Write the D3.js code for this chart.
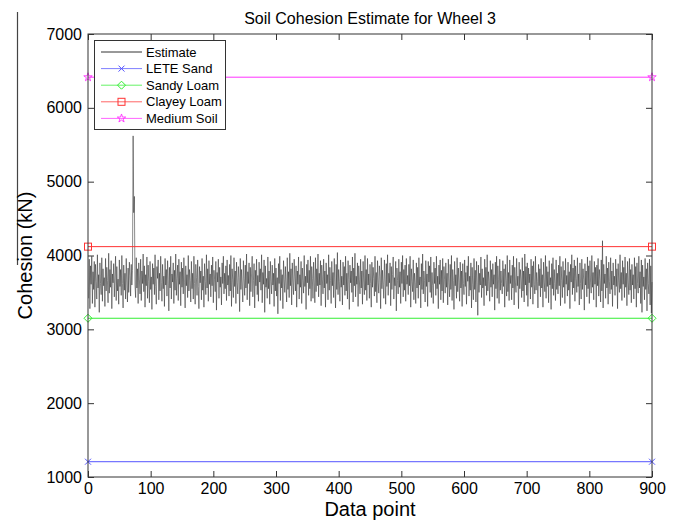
<!DOCTYPE html>
<html>
<head>
<meta charset="utf-8">
<script src="https://cdn.jsdelivr.net/npm/d3@7"></script>
<style>
  html, body { margin: 0; padding: 0; background: #fff; }
  svg { display: block; font-family: Arial, "Liberation Sans", sans-serif; }
</style>
</head>
<body>
<svg id="chart" width="677" height="523"></svg>
<script>
// ---------------- data ----------------
const chartTitle = "Soil Cohesion Estimate for Wheel 3";
const xLabel = "Data point";
const yLabel = "Cohesion (kN)";
const xTicks = [0, 100, 200, 300, 400, 500, 600, 700, 800, 900];
const yTicks = [1000, 2000, 3000, 4000, 5000, 6000, 7000];
const xDomain = [0, 900];
const yDomain = [1000, 7000];

const refNames = ["LETE Sand", "Sandy Loam", "Clayey Loam", "Medium Soil"];
const refValues = [1207, 3150, 4120, 6415];
const refX = [0, 900];

// Estimate series (data points 1..900)
const estimate = [
3420,3950,3280,3860,3610,3990,3350,3780,3540,3920,3300,3880,3650,3410,4010,
3560,3740,3230,3900,3620,3470,3970,3380,3820,3590,3700,3310,3960,3520,3840,
3660,3360,4030,3490,3810,3570,3930,3280,3750,3630,3890,3440,3710,3990,3390,
3850,3520,3680,3340,3940,3580,3810,3460,4000,3620,3290,3870,3530,3760,3410,
3960,3640,3370,3830,3500,3910,3730,3450,3880,3600,3800,5620,4580,4800,3600,
3430,3970,3560,3820,3350,3900,3680,3480,3950,3390,3790,3620,4020,3510,3860,
3300,3740,3590,3980,3420,3870,3650,3360,3920,3540,3710,3270,3890,3610,3830,
3470,4010,3580,3340,3850,3690,3940,3400,3760,3520,3990,3630,3380,3880,3550,
3720,3310,3960,3600,3810,3450,3930,3670,3250,3840,3560,3990,3410,3750,3640,
3900,3350,3800,3530,4020,3460,3690,3870,3390,3950,3610,3780,3320,3910,3570,
3830,3480,3970,3640,3290,3860,3590,3740,3430,4000,3520,3810,3660,3370,3920,
3550,3760,3410,3990,3620,3340,3880,3700,3460,3940,3580,3280,3850,3630,3790,
3400,3960,3530,3720,3300,3890,3650,3470,4010,3560,3820,3380,3930,3610,3750,
3440,3870,3590,3980,3360,3800,3680,3510,3920,3260,3770,3640,3950,3420,3840,
3570,3710,3330,3900,3620,3990,3480,3760,3550,3860,3390,3940,3600,3730,3450,
3880,3520,4000,3310,3820,3670,3430,3970,3580,3790,3350,3910,3630,3480,3850,
3700,3240,3960,3540,3810,3600,3370,3930,3690,3460,3870,3560,4020,3400,3780,
3620,3900,3320,3840,3510,3750,3990,3440,3660,3890,3290,3800,3590,3950,3470,
3730,3380,3910,3640,3820,3530,4010,3360,3770,3610,3940,3230,3860,3570,3690,
3420,3980,3550,3790,3340,3920,3650,3480,3870,3600,3760,3310,3960,3520,3830,
3450,3700,3210,3890,3620,3990,3390,3810,3560,3740,3280,3930,3670,3500,3850,
3600,3370,3970,3540,3780,3430,4030,3590,3820,3330,3900,3640,3470,3950,3710,
3520,3860,3300,3790,3610,3980,3410,3740,3570,3920,3350,3830,3660,3490,4000,
3580,3720,3270,3880,3630,3940,3460,3800,3550,3990,3380,3850,3690,3420,3910,
3640,3360,3970,3510,3820,3590,4020,3440,3760,3600,3930,3320,3870,3680,3480,
3950,3560,3790,3300,3900,3620,3740,3400,4010,3530,3840,3660,3350,3920,3590,
3770,3430,3960,3610,3290,3880,3540,4040,3470,3810,3650,3380,3940,3570,3720,
3330,3910,3600,3850,3460,3990,3520,3760,3410,3930,3680,3270,3870,3630,3790,
3500,3980,3370,3830,3590,4030,3440,3720,3610,3900,3310,3860,3670,3480,3950,
3560,3790,3340,3920,3640,3470,4000,3530,3810,3390,3960,3600,3750,3420,3880,
3620,3300,3910,3570,3840,3690,3450,3990,3510,3770,3360,3930,3640,3490,3860,
3720,3280,3970,3550,3800,3610,3420,3940,3680,3340,3890,3580,4010,3460,3760,
3630,3900,3320,3850,3540,3740,3980,3410,3700,3590,3920,3250,3830,3660,3480,
3950,3570,3780,3350,3910,3620,4000,3440,3810,3530,3870,3380,3960,3610,3730,
3470,3880,3590,3990,3300,3820,3650,3510,3940,3400,3760,3630,3350,3900,3560,
3840,3420,3970,3600,3710,3290,3890,3540,4020,3480,3790,3660,3370,3930,3580,
3750,3310,3920,3640,3860,3500,3980,3430,3770,3590,3350,3910,3620,3830,3460,
3990,3550,3720,3280,3870,3610,3940,3400,3800,3520,3960,3360,3850,3680,3490,
3900,3570,3760,3330,3950,3630,3440,3880,3540,4000,3390,3810,3660,3270,3920,
3590,3740,3420,3970,3510,3830,3640,3380,3910,3560,3790,3310,3890,3620,3470,
3940,3580,3770,3340,3860,3650,3990,3450,3720,3530,3900,3290,3840,3610,3400,
3960,3540,3800,3370,3920,3630,3190,3870,3500,3760,3600,3980,3430,3820,3560,
3700,3320,3950,3590,3840,3460,4010,3520,3780,3650,3380,3930,3570,3810,3440,
3890,3610,3740,3260,3910,3550,3990,3420,3860,3680,3350,3950,3530,3790,3620,
3480,3930,3580,3820,3300,3880,3660,3450,4000,3510,3770,3390,3940,3620,3730,
3400,3870,3560,3990,3330,3840,3640,3500,3960,3590,3720,3280,3910,3550,3810,
3680,3430,3970,3520,3790,3370,4020,3600,3850,3460,3900,3310,3830,3630,3750,
3410,3950,3570,3860,3340,3920,3610,3480,3990,3530,3770,3650,3290,3880,3590,
3820,3440,3960,3560,3740,3300,3910,3640,3510,4000,3420,3850,3580,3780,3360,
3930,3600,3700,3270,3890,3550,3970,3460,3810,3620,3390,3940,3540,3760,3480,
3870,3590,3990,3320,3850,3660,3430,3920,3570,3800,3350,3960,3610,3730,3450,
3910,3530,3780,3280,3880,3640,4010,3470,3830,3560,3940,3380,3860,3690,3500,
3970,3580,3750,3330,3900,3620,3410,3950,3540,3820,3670,3260,3890,3600,3790,
3440,3980,3550,3860,3350,3930,3640,3490,4000,3570,3770,3400,3920,3610,3840,
3300,3870,3590,3960,3450,3810,3660,3370,3940,3520,4200,3290,3880,3620,3750,
3420,3990,3560,3830,3340,3910,3650,3480,3970,3540,3790,3310,3900,3600,3720,
3460,3950,3580,3820,3280,3890,3630,3500,4010,3550,3770,3390,3930,3610,3840,
3430,3980,3570,3760,3320,3920,3640,3470,3960,3530,3810,3360,3880,3600,3740,
3410,3970,3550,3850,3300,3900,3620,3490,3990,3560,3780,3350,3940,3230,3870,
3580,3710,3400,3960,3540,3820,3250,3900,3620,3480,3950,3330,3860,3220,3640
];

// ---------------- styles / layout ----------------
const refColors = ["#5555ff", "#33ee33", "#ff3333", "#ff33ff"];
const refMarkers = ["x", "diamond", "square", "star"];
const margin = { left: 88, right: 677 - 652, top: 34, bottom: 523 - 477 };
const W = 677, H = 523;

const svg = d3.select("#chart");
const x = d3.scaleLinear().domain(xDomain).range([margin.left, W - margin.right]);
const y = d3.scaleLinear().domain(yDomain).range([H - margin.bottom, margin.top]);

svg.append("rect").attr("width", W).attr("height", H).attr("fill", "#fff");

// stray vertical line at left edge (present in reference image)
svg.append("line").attr("x1", 17.5).attr("x2", 17.5).attr("y1", 12).attr("y2", 265)
  .attr("stroke", "#444").attr("stroke-width", 1.2);

// Estimate line
const line = d3.line().x((d, i) => x(i + 1)).y(d => y(d));
svg.append("path").datum(estimate)
  .attr("d", line)
  .attr("fill", "none")
  .attr("stroke", "#2a2a2a")
  .attr("stroke-width", 0.55);

function drawMarker(g, type, cx, cy, color) {
  const s = 3.5;
  if (type === "x") {
    g.append("path").attr("d", `M${cx - 3},${cy - 3}L${cx + 3},${cy + 3}M${cx - 3},${cy + 3}L${cx + 3},${cy - 3}`)
      .attr("stroke", color).attr("fill", "none").attr("stroke-width", 1);
  } else if (type === "diamond") {
    g.append("path").attr("d", `M${cx},${cy - 4}L${cx + 4},${cy}L${cx},${cy + 4}L${cx - 4},${cy}Z`)
      .attr("stroke", color).attr("fill", "none").attr("stroke-width", 1);
  } else if (type === "square") {
    g.append("rect").attr("x", cx - s).attr("y", cy - s).attr("width", 2 * s).attr("height", 2 * s)
      .attr("stroke", color).attr("fill", "none").attr("stroke-width", 1);
  } else if (type === "star") {
    g.append("path").attr("d", d3.symbol(d3.symbolStar, 22)()).attr("transform", `translate(${cx},${cy})`)
      .attr("stroke", color).attr("fill", "none").attr("stroke-width", 0.9);
  }
}

// Reference lines
refValues.forEach((v, k) => {
  const g = svg.append("g");
  g.append("line").attr("x1", x(refX[0])).attr("x2", x(refX[1]))
    .attr("y1", y(v)).attr("y2", y(v))
    .attr("stroke", refColors[k]).attr("stroke-width", 1);
  refX.forEach(px => drawMarker(g, refMarkers[k], x(px), y(v), refColors[k]));
});

// Axes box and ticks (MATLAB style, inward ticks on all sides)
const axisColor = "#333";
const tl = 6;
const fmt = d3.format("d");
svg.append("rect").attr("x", x(xDomain[0])).attr("y", y(yDomain[1]))
  .attr("width", x(xDomain[1]) - x(xDomain[0])).attr("height", y(yDomain[0]) - y(yDomain[1]))
  .attr("fill", "none").attr("stroke", axisColor).attr("stroke-width", 1);

const xAxisB = d3.axisBottom(x).tickValues(xTicks).tickFormat(fmt).tickSizeInner(-tl).tickSizeOuter(0).tickPadding(6);
const xAxisT = d3.axisTop(x).tickValues(xTicks).tickSizeInner(-tl).tickSizeOuter(0).tickFormat("");
const yAxisL = d3.axisLeft(y).tickValues(yTicks).tickFormat(fmt).tickSizeInner(-tl).tickSizeOuter(0).tickPadding(6);
const yAxisR = d3.axisRight(y).tickValues(yTicks).tickSizeInner(-tl).tickSizeOuter(0).tickFormat("");

function style(g) {
  g.select(".domain").remove();
  g.selectAll(".tick line").attr("stroke", axisColor);
  g.selectAll(".tick text").attr("fill", "#000").style("font-size", "16px")
    .style("font-family", "Arial, 'Liberation Sans', sans-serif");
}
svg.append("g").attr("transform", `translate(0,${y(yDomain[0])})`).call(xAxisB).call(style);
svg.append("g").attr("transform", `translate(0,${y(yDomain[1])})`).call(xAxisT).call(style);
svg.append("g").attr("transform", `translate(${x(xDomain[0])},0)`).call(yAxisL).call(style);
svg.append("g").attr("transform", `translate(${x(xDomain[1])},0)`).call(yAxisR).call(style);

// Title and labels
svg.append("text").attr("x", (x(xDomain[0]) + x(xDomain[1])) / 2).attr("y", 24)
  .attr("text-anchor", "middle").style("font-size", "16px").text(chartTitle);
svg.append("text").attr("x", (x(xDomain[0]) + x(xDomain[1])) / 2).attr("y", 516)
  .attr("text-anchor", "middle").style("font-size", "20px").text(xLabel);
svg.append("text").attr("transform", `translate(32,${(y(yDomain[0]) + y(yDomain[1])) / 2}) rotate(-90)`)
  .attr("text-anchor", "middle").style("font-size", "20px").text(yLabel);

// Legend
const legNames = ["Estimate"].concat(refNames);
const legColors = ["#000"].concat(refColors);
const legMarkers = [null].concat(refMarkers);
const lg = svg.append("g");
lg.append("rect").attr("x", 94.5).attr("y", 40.5).attr("width", 131).attr("height", 89)
  .attr("fill", "#fff").attr("stroke", "#333").attr("stroke-width", 1);
legNames.forEach((n, i) => {
  const cy = 52 + i * 16.6;
  lg.append("line").attr("x1", 101).attr("x2", 142).attr("y1", cy).attr("y2", cy)
    .attr("stroke", legColors[i]).attr("stroke-width", 1).attr("opacity", i === 0 ? 0.8 : 0.75);
  if (legMarkers[i]) drawMarker(lg, legMarkers[i], 121.5, cy, legColors[i]);
  lg.append("text").attr("x", 146).attr("y", cy + 4.5).style("font-size", "13px").text(n);
});
</script>
</body>
</html>
